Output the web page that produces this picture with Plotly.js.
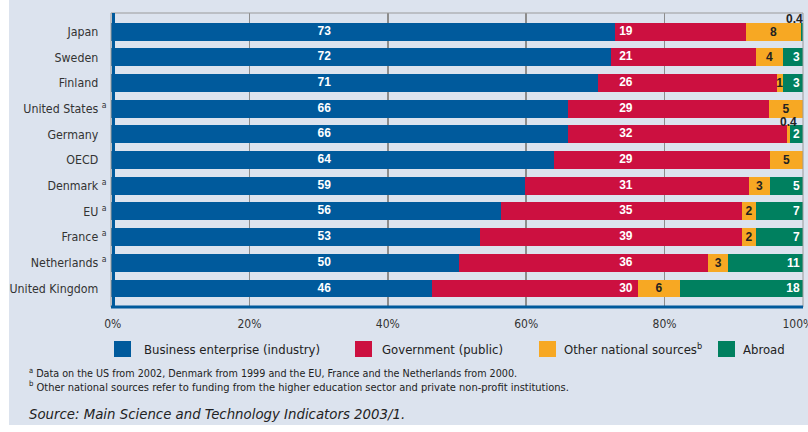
<!DOCTYPE html>
<html><head><meta charset="utf-8">
<script src="https://cdn.plot.ly/plotly-3.0.1.min.js"></script>
<style>html,body{margin:0;padding:0;background:#fff}#chart{width:808px;height:432px}</style>
</head><body><div id="chart"></div>
<script>
// ---- data ----
const countries = ['Japan','Sweden','Finland','United States','Germany','OECD','Denmark','EU','France','Netherlands','United Kingdom'];
const noteA = [false,false,false,true,false,false,true,true,true,true,false];
const business = [72.8,72.3,70.4,66.0,66.0,64.0,59.8,56.4,53.3,50.3,46.4];
const government = [19.0,20.9,25.8,29.1,31.7,31.2,32.4,34.8,37.9,36.0,29.8];
const otherNational = [7.9,3.9,0.9,4.9,0.4,4.8,3.0,2.0,2.0,2.9,6.0];
const abroad = [0.3,2.9,2.9,0,1.9,0,4.8,6.8,6.8,10.8,17.8];
const businessLabels = ['73','72','71','66','66','64','59','56','53','50','46'];
const governmentLabels = ['19','21','26','29','32','29','31','35','39','36','30'];
const otherLabels = ['8','4','1','5','','5','3','2','2','3','6'];
const abroadLabels = ['','3','3','','2','','5','7','7','11','18'];
const smallNoteCountries = ['Japan','Germany'];
const smallNoteSeries = ['abroad','other'];
const smallNoteLabels = ['0.4','0.4'];
const xTickVals = [0,20,40,60,80,100];
const xTickLabels = ['\u00a00%','20%','40%','60%','80%','100%\u00a0\u00a0\u00a0'];
const seriesNames = ['Business enterprise (industry)','Government (public)','Other national sources<sup>b</sup>','Abroad'];

// ---- styles ----
const C = {blue:'#005a9c', red:'#cc1040', orange:'#f7a823', green:'#00805f', panel:'#dce3ee'};
const NARROW = '"Liberation Sans Narrow", "DejaVu Sans Condensed", "Arial Narrow", sans-serif';
const BOLD = 'Liberation Sans, Arial, sans-serif';
const labelFont = (color)=>({family:BOLD, size:12, color:color, weight:'bold'});
const W = 808, H = 432, ML = 111, MR = 5, MT = 13, MB = 125;
const PW = W-ML-MR, PH = H-MT-MB;
const px = x => (x-ML)/PW;
const py = y => (MT+PH-y)/PH;

const ticktext = countries.map((c,i)=> noteA[i] ? c+' <sup>a</sup>' : c+' <span style="color:rgba(0,0,0,0)"><sup>a</sup></span>');

const barCommon = {type:'bar', orientation:'h', y:countries, hoverinfo:'skip', showlegend:false,
  textangle:0, constraintext:'none', marker:{line:{width:0}}};

const traces = [
  Object.assign({}, barCommon, {name:'Business', x:business, marker:{color:C.blue}, textposition:'none'}),
  Object.assign({}, barCommon, {name:'Government', x:government, marker:{color:C.red}, textposition:'none'}),
  Object.assign({}, barCommon, {name:'Other', x:otherNational, marker:{color:C.orange},
     text:otherLabels, textposition:'inside', insidetextanchor:'middle', insidetextfont:labelFont('#222')}),
  Object.assign({}, barCommon, {name:'Abroad', x:abroad, marker:{color:C.green},
     text:abroadLabels, textposition:'inside', insidetextanchor:'end', insidetextfont:labelFont('#fff')}),
  {type:'scatter', mode:'text', x:countries.map(()=>30.8), y:countries, text:businessLabels,
     textposition:'middle center', textfont:labelFont('#fff'), hoverinfo:'skip', showlegend:false},
  {type:'scatter', mode:'text', x:countries.map(()=>74.4), y:countries, text:governmentLabels,
     textposition:'middle center', textfont:labelFont('#fff'), hoverinfo:'skip', showlegend:false}
];

// small values written above their bars
const annotations = smallNoteCountries.map((c,k)=>{
  const i = countries.indexOf(c);
  const isAbroad = smallNoteSeries[k]==='abroad';
  const start = isAbroad ? business[i]+government[i]+otherNational[i] : business[i]+government[i];
  const w = isAbroad ? abroad[i] : otherNational[i];
  return {x:start+w/2, y:c, xref:'x', yref:'y', text:smallNoteLabels[k], showarrow:false,
    xanchor: isAbroad ? 'right':'center', xshift: isAbroad ? 3 : 0,
    yshift: isAbroad ? 13 : 12, font:labelFont('#222')};
});

// legend (custom, matches original placement)
const legendColors = [C.blue, C.red, C.orange, C.green];
const legendSquareX = [114, 355, 539, 718];
const legendTextX = [142, 380, 562, 741];
const shapes = [
  {type:'rect', xref:'paper', yref:'paper', x0:px(9), x1:px(808), y0:py(425), y1:py(0), fillcolor:C.panel, line:{width:0}, layer:'below'},
  {type:'rect', xref:'paper', yref:'paper', x0:0, x1:1, y0:0, y1:1, line:{color:'#9a9a9a', width:1}},
  {type:'line', xref:'paper', yref:'paper', x0:px(113.5), x1:px(113.5), y0:0, y1:1, line:{color:C.blue, width:3}},
  {type:'line', xref:'paper', yref:'paper', x0:0, x1:1, y0:0, y1:0, line:{color:C.blue, width:3}}
];
legendColors.forEach((col,i)=>{
  shapes.push({type:'rect', xref:'paper', yref:'paper', x0:px(legendSquareX[i]), x1:px(legendSquareX[i]+17),
    y0:py(357), y1:py(341), fillcolor:col, line:{width:0}});
  annotations.push({xref:'paper', yref:'paper', x:px(legendTextX[i]), y:py(349), xanchor:'left', yanchor:'middle',
    text:seriesNames[i], showarrow:false, font:{family:NARROW, size:13, color:'#222'}});
});
annotations.push({xref:'paper', yref:'paper', x:px(27), y:py(373), xanchor:'left', yanchor:'middle', showarrow:false,
  text:'<sup>a</sup> Data on the US from 2002, Denmark from 1999 and the EU, France and the Netherlands from 2000.',
  font:{family:NARROW, size:10.7, color:'#222'}});
annotations.push({xref:'paper', yref:'paper', x:px(27), y:py(386), xanchor:'left', yanchor:'middle', showarrow:false,
  text:'<sup>b</sup> Other national sources refer to funding from the higher education sector and private non-profit institutions.',
  font:{family:NARROW, size:11, color:'#222'}});
annotations.push({xref:'paper', yref:'paper', x:px(27), y:py(413), xanchor:'left', yanchor:'middle', showarrow:false,
  text:'<i>Source: Main Science and Technology Indicators 2003/1.</i>',
  font:{family:NARROW, size:14.8, color:'#222'}});

const layout = {
  width:W, height:H, margin:{l:ML, r:MR, t:MT, b:MB, pad:0},
  paper_bgcolor:'#ffffff', plot_bgcolor:'#ffffff',
  barmode:'stack', bargap:0.3, showlegend:false,
  xaxis:{range:[0,100], tickvals:xTickVals, ticktext:xTickLabels, showgrid:true, gridcolor:'#8c8c8c', gridwidth:1.5,
    zeroline:false, showline:false, ticks:'outside', ticklen:6, tickcolor:'rgba(0,0,0,0)', ticklabeloverflow:'allow',
    tickfont:{family:NARROW, size:12, color:'#333'}, fixedrange:true},
  yaxis:{type:'category', categoryorder:'array', categoryarray:countries, tickvals:countries, ticktext:ticktext,
    range:[10.72,-0.72], autorange:false, showgrid:false, zeroline:false, showline:false,
    ticks:'outside', ticklen:1, tickcolor:'rgba(0,0,0,0)',
    tickfont:{family:NARROW, size:12.3, color:'#333'}, fixedrange:true},
  shapes:shapes, annotations:annotations
};
Plotly.newPlot('chart', traces, layout, {staticPlot:true, displayModeBar:false});
</script></body></html>
